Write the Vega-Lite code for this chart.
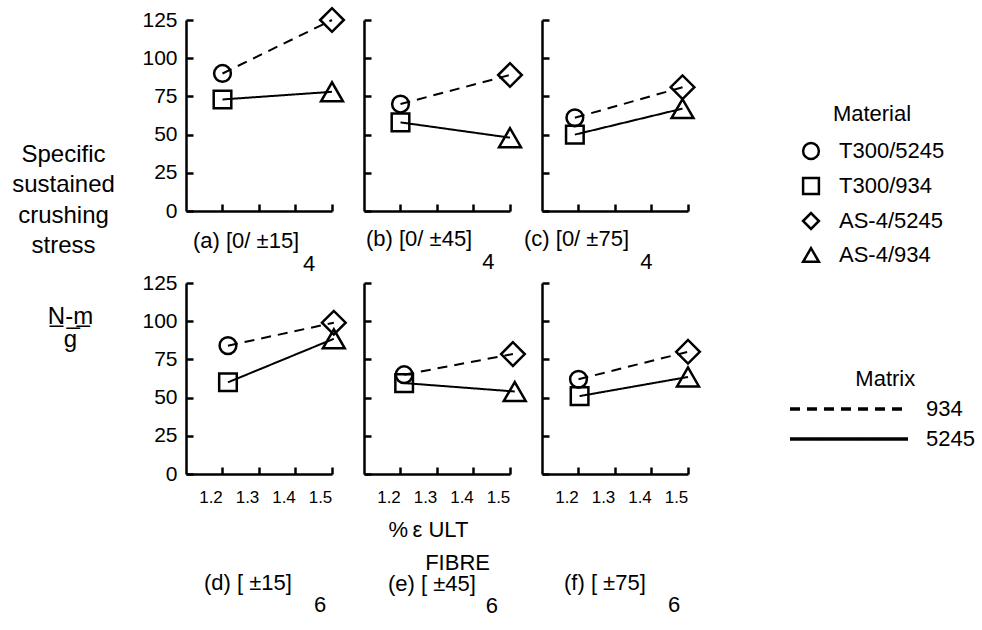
{
  "$schema": "https://vega.github.io/schema/vega-lite/v6.json",
  "autosize": {"type": "pad"},
  "padding": {"left": 11, "top": 3, "right": 2, "bottom": 2},
  "background": "white",
  "datasets": {
    "pts": [
      {"panel": "a", "Material": "T300/5245", "Matrix": "934", "strain": 1.2, "stress": 90},
      {"panel": "a", "Material": "T300/934", "Matrix": "5245", "strain": 1.2, "stress": 73},
      {"panel": "a", "Material": "AS-4/5245", "Matrix": "934", "strain": 1.5, "stress": 125},
      {"panel": "a", "Material": "AS-4/934", "Matrix": "5245", "strain": 1.5, "stress": 78},
      {"panel": "b", "Material": "T300/5245", "Matrix": "934", "strain": 1.2, "stress": 70},
      {"panel": "b", "Material": "T300/934", "Matrix": "5245", "strain": 1.2, "stress": 58},
      {"panel": "b", "Material": "AS-4/5245", "Matrix": "934", "strain": 1.5, "stress": 89},
      {"panel": "b", "Material": "AS-4/934", "Matrix": "5245", "strain": 1.5, "stress": 48},
      {"panel": "c", "Material": "T300/5245", "Matrix": "934", "strain": 1.19, "stress": 61},
      {"panel": "c", "Material": "T300/934", "Matrix": "5245", "strain": 1.19, "stress": 50},
      {"panel": "c", "Material": "AS-4/5245", "Matrix": "934", "strain": 1.485, "stress": 81},
      {"panel": "c", "Material": "AS-4/934", "Matrix": "5245", "strain": 1.485, "stress": 67},
      {"panel": "d", "Material": "T300/5245", "Matrix": "934", "strain": 1.215, "stress": 84},
      {"panel": "d", "Material": "T300/934", "Matrix": "5245", "strain": 1.215, "stress": 60},
      {"panel": "d", "Material": "AS-4/5245", "Matrix": "934", "strain": 1.505, "stress": 99},
      {"panel": "d", "Material": "AS-4/934", "Matrix": "5245", "strain": 1.505, "stress": 88.5},
      {"panel": "e", "Material": "T300/5245", "Matrix": "934", "strain": 1.21, "stress": 65},
      {"panel": "e", "Material": "T300/934", "Matrix": "5245", "strain": 1.21, "stress": 59.5},
      {"panel": "e", "Material": "AS-4/5245", "Matrix": "934", "strain": 1.508, "stress": 78.5},
      {"panel": "e", "Material": "AS-4/934", "Matrix": "5245", "strain": 1.513, "stress": 54},
      {"panel": "f", "Material": "T300/5245", "Matrix": "934", "strain": 1.2, "stress": 62},
      {"panel": "f", "Material": "T300/934", "Matrix": "5245", "strain": 1.203, "stress": 51},
      {"panel": "f", "Material": "AS-4/5245", "Matrix": "934", "strain": 1.5, "stress": 80},
      {"panel": "f", "Material": "AS-4/934", "Matrix": "5245", "strain": 1.5, "stress": 63.5}
    ]
  },
  "bounds": "flush",
  "columns": 3,
  "spacing": {"row": 72, "column": 32},
  "resolve": {
    "scale": {"shape": "shared", "size": "shared", "strokeDash": "shared"},
    "legend": {"shape": "shared", "strokeDash": "shared"}
  },
  "concat": [
    {
      "width": 146, "height": 191,
      "data": {"name": "pts"},
      "transform": [{"filter": "datum.panel == 'a'"}],
      "title": {"text": "(a) [0/ ±15]", "subtitle": "\u200b\u00a0\u00a0\u00a0\u00a0\u00a0\u00a0\u00a0\u00a0\u00a0\u00a0\u00a0\u00a0\u00a0\u00a0\u00a0\u00a0\u00a0\u00a04", "dx": 7, "offset": -27, "subtitlePadding": 1},
      "encoding": {
        "x": {"field": "strain", "type": "quantitative", "scale": {"domain": [1.1, 1.5], "nice": false, "zero": false}, "axis": {"values": [1.2, 1.3, 1.4, 1.5], "labels": false, "title": null}},
        "y": {"field": "stress", "type": "quantitative", "scale": {"domain": [0, 125], "nice": false}, "axis": {"values": [0, 25, 50, 75, 100, 125], "labelFontSize": 21, "labelPadding": 16, "title": ["Specific", "sustained", "crushing", "stress"], "titleAngle": 0, "titleAlign": "center", "titleBaseline": "alphabetic", "titleX": -123, "titleY": 141, "titleLineHeight": 30.5, "titleFontSize": 24}}
      },
      "layer": [
        {"mark": {"type": "line", "color": "black", "strokeWidth": 2},
         "encoding": {"strokeDash": {"field": "Matrix", "type": "nominal", "scale": {"domain": ["934", "5245"], "range": [[10, 7], [1, 0]]},
           "legend": {"title": "\u200b\u00a0\u00a0\u00a0Matrix", "orient": "none", "legendX": 651, "legendY": 349, "titleAnchor": "start", "titleAlign": "left", "symbolType": "M-6,0H6", "symbolSize": 387, "symbolStrokeWidth": 3.5, "symbolStrokeColor": "black", "labelOffset": 65, "rowPadding": 7, "titlePadding": 6}}}},
        {"mark": {"type": "point", "filled": false, "color": "black", "strokeWidth": 2.5},
         "encoding": {
           "shape": {"field": "Material", "type": "nominal", "scale": {"domain": ["T300/5245", "T300/934", "AS-4/5245", "AS-4/934"], "range": ["circle", "square", "diamond", "triangle-up"]},
             "legend": {"title": "Material", "orient": "none", "legendX": 614, "legendY": 84, "titleAnchor": "middle", "symbolSize": 250, "rowPadding": 9, "titlePadding": 14, "labelOffset": 17, "symbolStrokeColor": "black", "symbolStrokeWidth": 2.5}},
           "size": {"field": "Material", "type": "nominal", "scale": {"type": "ordinal", "domain": ["T300/934", "T300/5245", "AS-4/934", "AS-4/5245"], "range": [310, 280, 480, 560]}, "legend": null}
         }}
      ]
    },
    {
      "width": 146, "height": 191,
      "data": {"name": "pts"},
      "transform": [{"filter": "datum.panel == 'b'"}],
      "title": {"text": "(b) [0/ ±45]", "subtitle": "\u200b\u00a0\u00a0\u00a0\u00a0\u00a0\u00a0\u00a0\u00a0\u00a0\u00a0\u00a0\u00a0\u00a0\u00a0\u00a0\u00a0\u00a0\u00a0\u00a04", "dx": 2, "offset": 17, "subtitlePadding": 1},
      "encoding": {
        "x": {"field": "strain", "type": "quantitative", "scale": {"domain": [1.1, 1.5], "nice": false, "zero": false}, "axis": {"values": [1.2, 1.3, 1.4, 1.5], "labels": false, "title": null}},
        "y": {"field": "stress", "type": "quantitative", "scale": {"domain": [0, 125], "nice": false}, "axis": {"values": [0, 25, 50, 75, 100, 125], "labels": false, "title": null}}
      },
      "layer": [
        {"mark": {"type": "line", "color": "black", "strokeWidth": 2},
         "encoding": {"strokeDash": {"field": "Matrix", "type": "nominal", "scale": {"domain": ["934", "5245"], "range": [[10, 7], [1, 0]]}}}},
        {"mark": {"type": "point", "filled": false, "color": "black", "strokeWidth": 2.5},
         "encoding": {
           "shape": {"field": "Material", "type": "nominal", "scale": {"domain": ["T300/5245", "T300/934", "AS-4/5245", "AS-4/934"], "range": ["circle", "square", "diamond", "triangle-up"]}},
           "size": {"field": "Material", "type": "nominal", "scale": {"type": "ordinal", "domain": ["T300/934", "T300/5245", "AS-4/934", "AS-4/5245"], "range": [310, 280, 480, 560]}, "legend": null}
         }}
      ]
    },
    {
      "width": 146, "height": 191,
      "data": {"name": "pts"},
      "transform": [{"filter": "datum.panel == 'c'"}],
      "title": {"text": "(c) [0/ ±75]", "subtitle": "\u200b\u00a0\u00a0\u00a0\u00a0\u00a0\u00a0\u00a0\u00a0\u00a0\u00a0\u00a0\u00a0\u00a0\u00a0\u00a0\u00a0\u00a0\u00a0\u00a04", "dx": -18, "offset": 17, "subtitlePadding": 1},
      "encoding": {
        "x": {"field": "strain", "type": "quantitative", "scale": {"domain": [1.1, 1.5], "nice": false, "zero": false}, "axis": {"values": [1.2, 1.3, 1.4, 1.5], "labels": false, "title": null}},
        "y": {"field": "stress", "type": "quantitative", "scale": {"domain": [0, 125], "nice": false}, "axis": {"values": [0, 25, 50, 75, 100, 125], "labels": false, "title": null}}
      },
      "layer": [
        {"mark": {"type": "line", "color": "black", "strokeWidth": 2},
         "encoding": {"strokeDash": {"field": "Matrix", "type": "nominal", "scale": {"domain": ["934", "5245"], "range": [[10, 7], [1, 0]]}}}},
        {"mark": {"type": "point", "filled": false, "color": "black", "strokeWidth": 2.5},
         "encoding": {
           "shape": {"field": "Material", "type": "nominal", "scale": {"domain": ["T300/5245", "T300/934", "AS-4/5245", "AS-4/934"], "range": ["circle", "square", "diamond", "triangle-up"]}},
           "size": {"field": "Material", "type": "nominal", "scale": {"type": "ordinal", "domain": ["T300/934", "T300/5245", "AS-4/934", "AS-4/5245"], "range": [310, 280, 480, 560]}, "legend": null}
         }}
      ]
    },
    {
      "width": 146, "height": 191,
      "data": {"name": "pts"},
      "transform": [{"filter": "datum.panel == 'd'"}],
      "title": {"text": "(d) [ ±15]", "subtitle": "\u200b\u00a0\u00a0\u00a0\u00a0\u00a0\u00a0\u00a0\u00a0\u00a0\u00a0\u00a0\u00a0\u00a0\u00a0\u00a0\u00a0\u00a0\u00a06", "dx": 18, "offset": 68, "subtitlePadding": 0},
      "encoding": {
        "x": {"field": "strain", "type": "quantitative", "scale": {"domain": [1.1, 1.5], "nice": false, "zero": false}, "axis": {"values": [1.2, 1.3, 1.4, 1.5], "format": ".1f", "labelFontSize": 17, "labelPadding": 22, "labelOffset": -12, "labelFlush": false, "title": null}},
        "y": {"field": "stress", "type": "quantitative", "scale": {"domain": [0, 125], "nice": false}, "axis": {"values": [0, 25, 50, 75, 100, 125], "labelFontSize": 21, "labelPadding": 16, "title": ["N\u0332-\u0332m\u0332", "g"], "titleAngle": 0, "titleAlign": "center", "titleBaseline": "alphabetic", "titleX": -116, "titleY": 40, "titleLineHeight": 23, "titleFontSize": 24}}
      },
      "layer": [
        {"mark": {"type": "line", "color": "black", "strokeWidth": 2},
         "encoding": {"strokeDash": {"field": "Matrix", "type": "nominal", "scale": {"domain": ["934", "5245"], "range": [[10, 7], [1, 0]]}}}},
        {"mark": {"type": "point", "filled": false, "color": "black", "strokeWidth": 2.5},
         "encoding": {
           "shape": {"field": "Material", "type": "nominal", "scale": {"domain": ["T300/5245", "T300/934", "AS-4/5245", "AS-4/934"], "range": ["circle", "square", "diamond", "triangle-up"]}},
           "size": {"field": "Material", "type": "nominal", "scale": {"type": "ordinal", "domain": ["T300/934", "T300/5245", "AS-4/934", "AS-4/5245"], "range": [310, 280, 480, 560]}, "legend": null}
         }}
      ]
    },
    {
      "width": 146, "height": 191,
      "data": {"name": "pts"},
      "transform": [{"filter": "datum.panel == 'e'"}],
      "title": {"text": "(e) [ ±45]", "subtitle": "\u200b\u00a0\u00a0\u00a0\u00a0\u00a0\u00a0\u00a0\u00a0\u00a0\u00a0\u00a0\u00a0\u00a0\u00a0\u00a0\u00a06", "dx": 24, "offset": 1, "subtitlePadding": 0},
      "encoding": {
        "x": {"field": "strain", "type": "quantitative", "scale": {"domain": [1.1, 1.5], "nice": false, "zero": false}, "axis": {"values": [1.2, 1.3, 1.4, 1.5], "format": ".1f", "labelFontSize": 17, "labelPadding": 22, "labelOffset": -12, "labelFlush": false, "title": ["%\u2009ε ULT", "\u200b\u00a0\u00a0\u00a0\u00a0\u00a0\u00a0FIBRE"], "titleAlign": "left", "titleBaseline": "alphabetic", "titleX": 24, "titleY": 62, "titleLineHeight": 33, "titleFontSize": 22}},
        "y": {"field": "stress", "type": "quantitative", "scale": {"domain": [0, 125], "nice": false}, "axis": {"values": [0, 25, 50, 75, 100, 125], "labels": false, "title": null}}
      },
      "layer": [
        {"mark": {"type": "line", "color": "black", "strokeWidth": 2},
         "encoding": {"strokeDash": {"field": "Matrix", "type": "nominal", "scale": {"domain": ["934", "5245"], "range": [[10, 7], [1, 0]]}}}},
        {"mark": {"type": "point", "filled": false, "color": "black", "strokeWidth": 2.5},
         "encoding": {
           "shape": {"field": "Material", "type": "nominal", "scale": {"domain": ["T300/5245", "T300/934", "AS-4/5245", "AS-4/934"], "range": ["circle", "square", "diamond", "triangle-up"]}},
           "size": {"field": "Material", "type": "nominal", "scale": {"type": "ordinal", "domain": ["T300/934", "T300/5245", "AS-4/934", "AS-4/5245"], "range": [310, 280, 480, 560]}, "legend": null}
         }}
      ]
    },
    {
      "width": 146, "height": 191,
      "data": {"name": "pts"},
      "transform": [{"filter": "datum.panel == 'f'"}],
      "title": {"text": "(f) [ ±75]", "subtitle": "\u200b\u00a0\u00a0\u00a0\u00a0\u00a0\u00a0\u00a0\u00a0\u00a0\u00a0\u00a0\u00a0\u00a0\u00a0\u00a0\u00a0\u00a06", "dx": 22, "offset": 68, "subtitlePadding": 0},
      "encoding": {
        "x": {"field": "strain", "type": "quantitative", "scale": {"domain": [1.1, 1.5], "nice": false, "zero": false}, "axis": {"values": [1.2, 1.3, 1.4, 1.5], "format": ".1f", "labelFontSize": 17, "labelPadding": 22, "labelOffset": -12, "labelFlush": false, "title": null}},
        "y": {"field": "stress", "type": "quantitative", "scale": {"domain": [0, 125], "nice": false}, "axis": {"values": [0, 25, 50, 75, 100, 125], "labels": false, "title": null}}
      },
      "layer": [
        {"mark": {"type": "line", "color": "black", "strokeWidth": 2},
         "encoding": {"strokeDash": {"field": "Matrix", "type": "nominal", "scale": {"domain": ["934", "5245"], "range": [[10, 7], [1, 0]]}}}},
        {"mark": {"type": "point", "filled": false, "color": "black", "strokeWidth": 2.5},
         "encoding": {
           "shape": {"field": "Material", "type": "nominal", "scale": {"domain": ["T300/5245", "T300/934", "AS-4/5245", "AS-4/934"], "range": ["circle", "square", "diamond", "triangle-up"]}},
           "size": {"field": "Material", "type": "nominal", "scale": {"type": "ordinal", "domain": ["T300/934", "T300/5245", "AS-4/934", "AS-4/5245"], "range": [310, 280, 480, 560]}, "legend": null}
         }}
      ]
    }
  ],
  "config": {
    "font": "Liberation Sans",
    "view": {"stroke": null},
    "point": {"opacity": 1},
    "axis": {"domainColor": "black", "domainWidth": 2.5, "tickColor": "black", "tickWidth": 2.5, "tickSize": -7, "grid": false, "labelColor": "black", "labelFont": "Liberation Sans", "titleFont": "Liberation Sans", "titleColor": "black", "titleFontWeight": "normal", "titleFontSize": 22},
    "legend": {"titleFont": "Liberation Sans", "labelFont": "Liberation Sans", "titleFontWeight": "normal", "titleColor": "black", "labelColor": "black", "titleFontSize": 22, "labelFontSize": 22, "padding": 0},
    "title": {"font": "Liberation Sans", "fontSize": 22, "fontWeight": "normal", "color": "black", "orient": "bottom", "anchor": "start", "frame": "group", "subtitleFont": "Liberation Sans", "subtitleFontSize": 22, "subtitleColor": "black"}
  }
}
